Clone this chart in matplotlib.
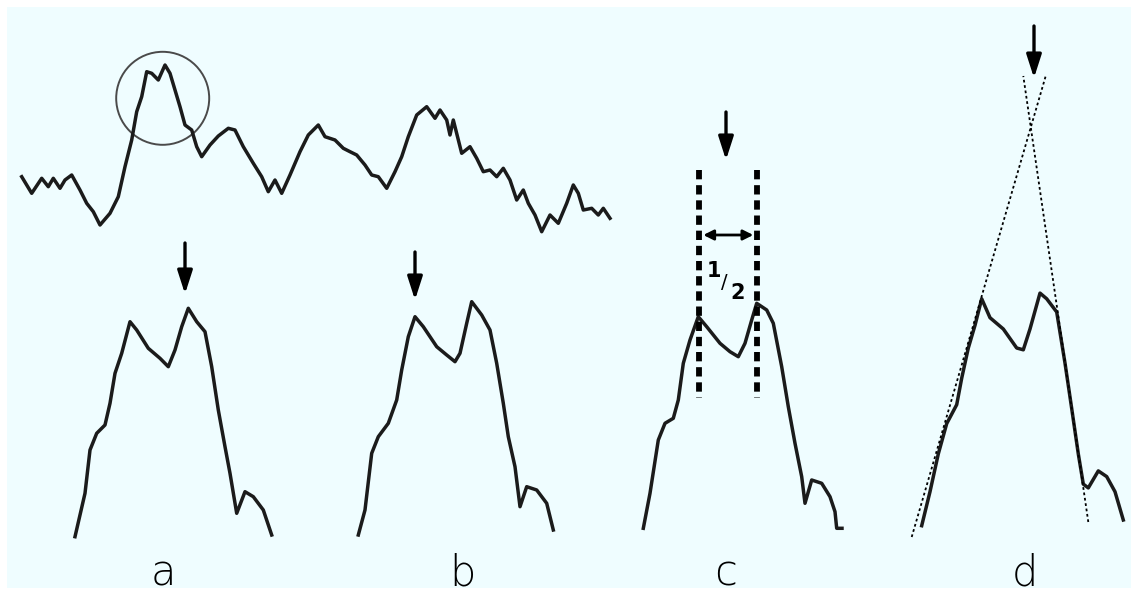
import matplotlib.pyplot as plt
from matplotlib.patches import Rectangle, Circle

# long recording (pixel-like units, y grows downwards)
trace_x = [21.7, 31.7, 41.7, 48.3, 53.3, 60, 65, 71.7, 80, 86.7, 93.3, 100, 110, 118.3,
           125, 131.7, 136.7, 141.7, 146.7, 151.7, 158.3, 165, 170, 175, 180, 185, 191.7,
           196.7, 201.7, 210, 218.3, 228.3, 235, 243.3, 253.3, 261.7, 268.3, 275, 281.7,
           290, 300, 308.3, 318.3, 325, 335, 343.3, 350, 356.7, 365, 371.7, 378.3, 386.7,
           395, 401.7, 408.3, 416.7, 426.7, 435, 440, 446.7, 450, 453.3, 461.7, 470, 476.7,
           483.3, 490, 496.7, 503.3, 510, 516.7, 523.3, 528.3, 535, 541.7, 550, 558.3,
           566.7, 573.3, 578.3, 583.3, 591.7, 598.3, 603.3, 610]
trace_y = [176.7, 193.3, 178.3, 186.7, 178.3, 188.3, 180, 175, 190, 203.3, 211.7, 225, 213.3,
           196.7, 166.7, 140, 111.7, 96.7, 71.7, 73.3, 80, 65, 73.3, 90, 106.7, 125, 130,
           146.7, 156.7, 145, 136, 128.3, 130, 146.7, 163.3, 176.7, 191.7, 180, 193.3, 175,
           151.7, 135, 125, 136.7, 140, 148.3, 151.7, 155, 165, 175, 176.7, 188.3, 171.7,
           156.7, 136.7, 115, 106.7, 118.3, 110, 120, 135, 120, 153.3, 146.7, 158.3, 171.7,
           170, 176.7, 168.3, 180, 200, 190, 203.3, 215, 231.7, 215, 223.3, 203.3, 185,
           193.3, 210, 208.3, 215, 208.3, 218.3]

# the circled double peak, enlarged, once per method
a_x = [75, 85, 90, 96.7, 105, 110, 115, 121.7, 130, 136.7, 148.3, 160, 168.3, 175, 181.7,
       188.3, 196.7, 205, 211.7, 218.3, 225, 230, 236.7, 245, 253.3, 263.3, 271.7]
a_y = [536.7, 493.3, 450, 433.3, 425, 403.3, 373.3, 353.3, 321.7, 330, 348.3, 358.3, 366.7,
       350, 326.7, 308.3, 321.7, 331.7, 366.7, 410, 446.7, 473.3, 513.3, 491.7, 496.7, 510, 535]

b_x = [358.3, 365, 371.7, 378.3, 388.3, 396.7, 401.7, 408.3, 415, 423.3, 436.7, 446.7, 455,
       460, 466.7, 471.7, 481.7, 490, 496.7, 503.3, 508.3, 515, 520, 526.7, 536.7, 546.7, 553.3]
b_y = [535, 510, 453.3, 436.7, 423.3, 400, 370, 336.7, 316.7, 326.7, 346.7, 355, 361.7,
       353.3, 323.3, 301.7, 315, 330, 363.3, 403.3, 436.7, 466.7, 506.7, 486.7, 490, 503.3, 530]

c_x = [643.3, 650, 658.3, 665, 673.3, 678.3, 683.3, 690, 698.3, 706.7, 720, 730, 738.3, 745,
       751.7, 756.7, 766.7, 773.3, 781.7, 788.3, 795, 801.7, 805, 811.7, 821.7, 830, 835,
       836.7, 842]
c_y = [528.3, 493.3, 440, 423.3, 418.3, 400, 363.3, 340, 316.7, 326.7, 343.3, 351.7, 356.7,
       343.3, 320, 303.3, 310, 323.3, 366.7, 406.7, 443.3, 476.7, 503.3, 480, 483.3, 496.7,
       511.7, 528.3, 528.3]

d_x = [921.7, 930, 938.3, 946.7, 956.7, 961.7, 968.3, 975, 981.7, 990, 1003.3, 1016.7, 1023.3,
       1030, 1040, 1046.7, 1056.7, 1065, 1071.7, 1078.3, 1083.3, 1088.3, 1098.3, 1106.7,
       1115, 1123.3]
d_y = [525.7, 491.7, 453.9, 423.6, 404.7, 378.2, 348, 325.3, 298.8, 317.7, 329, 348, 349.8,
       329, 293.1, 298.8, 312, 363.1, 408.5, 453.9, 484.1, 487.9, 470.9, 476.6, 491.7, 520]

# tangents for method d (two end points each)
tan1_x = [911.7, 1045.7]
tan1_y = [537, 76]
tan2_x = [1088.3, 1023.3]
tan2_y = [522, 76]

# half-distance markers for method c
half_x = [699.3, 757.3]

panel_labels = ['a', 'b', 'c', 'd']
label_x = [163, 462, 726, 1025]

ink = '#1b1b1b'

fig = plt.figure(figsize=(11.31, 5.93), dpi=100)
ax = fig.add_axes([0, 0, 1, 1])
ax.set_xlim(0, 1131)
ax.set_ylim(593, 0)
ax.axis('off')

ax.add_patch(Rectangle((7, 7), 1124, 581, facecolor='#effdff', edgecolor='none', zorder=0))

ax.plot(trace_x, trace_y, color=ink, lw=2.5, solid_joinstyle='round')
ax.add_patch(Circle((162.7, 98.3), 46.5, fill=False, edgecolor='#4a4a4a', lw=1.4))

for xs, ys in [(a_x, a_y), (b_x, b_y), (c_x, c_y), (d_x, d_y)]:
    ax.plot(xs, ys, color=ink, lw=2.5, solid_joinstyle='round')

# c: dashed verticals through both peaks, width arrow and 1/2
for x in half_x:
    ax.plot([x, x], [170, 398], color='black', lw=4.2, dashes=[1.6, 1.0], solid_capstyle='butt')
ax.annotate('', xy=(half_x[1] - 4, 235), xytext=(half_x[0] + 4, 235),
            arrowprops=dict(arrowstyle='<|-|>,head_length=0.6,head_width=0.3',
                            color='black', lw=2, shrinkA=0, shrinkB=0))
ax.text(714, 271, '1', fontsize=15, ha='center', va='center', color='black', fontweight='bold')
ax.text(724, 282, '/', fontsize=14, ha='center', va='center', color='black')
ax.text(738, 293, '2', fontsize=15, ha='center', va='center', color='black', fontweight='bold')

# d: dotted tangents
ax.plot(tan1_x, tan1_y, color='black', lw=1.3, dashes=[1.5, 1.5])
ax.plot(tan2_x, tan2_y, color='black', lw=1.3, dashes=[1.5, 1.5])

# arrows over each panel
arrows = [(185, 243, 294), (415, 252, 300), (726, 112, 160), (1034, 26, 78)]
for x, top, tip in arrows:
    ax.annotate('', xy=(x, tip), xytext=(x, top),
                arrowprops=dict(arrowstyle='-|>,head_length=1.4,head_width=0.45',
                                color='black', lw=2.4, shrinkA=0, shrinkB=0,
                                mutation_scale=10))

for lab, x in zip(panel_labels, label_x):
    ax.text(x, 586, lab, fontsize=30, ha='center', va='baseline', color='black',
            family='DejaVu Sans', fontweight='light')

fig.savefig('out.png', dpi=100)
